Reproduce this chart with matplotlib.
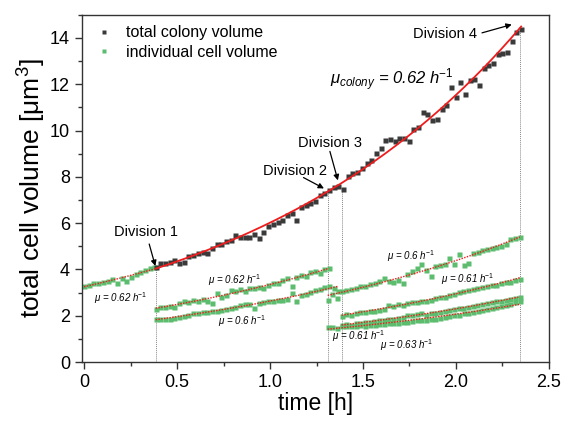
import numpy as np
import matplotlib.pyplot as plt
from matplotlib.ticker import MultipleLocator

plt.rcParams['font.family'] = ['Liberation Sans', 'DejaVu Sans']
plt.rcParams['mathtext.fontset'] = 'custom'
plt.rcParams['mathtext.rm'] = 'Liberation Sans'
plt.rcParams['mathtext.it'] = 'Liberation Sans:italic'

# frame interval of the time lapse [h]
dt = 0.0252

# total colony volume, from first division onwards
colony_t0 = 0.385
colony_vol = [4.12, 4.27, 4.30, 4.33, 4.40, 4.30, 4.32, 4.58, 4.63, 4.72,
              4.75, 4.70, 4.93, 5.08, 5.12, 5.22, 5.28, 5.50, 5.42, 5.40,
              5.42, 5.55, 5.36, 5.62, 5.88, 5.98, 6.05, 6.15, 6.35, 6.45,
              6.12, 6.70, 6.80, 6.88, 6.95, 7.20, 7.30, 7.42, 7.55, 7.62,
              7.48, 8.05, 8.15, 8.20, 8.40, 8.60, 8.75, 9.05, 9.25, 9.58,
              9.62, 9.55, 9.70, 9.68, 9.54, 10.05, 10.15, 10.80, 10.72, 10.45,
              10.52, 10.95, 11.10, 11.88, 11.45, 12.08, 11.60, 12.20, 12.22, 11.95,
              12.70, 12.85, 12.92, 13.30, 13.35, 13.40, 13.85, 14.25, 14.40]

# individual cells: start time and volumes
cell_a_t0 = 0.0
cell_a = [3.28, 3.33, 3.40, 3.42, 3.47, 3.52, 3.58, 3.42, 3.62, 3.50,
          3.68, 3.80, 3.90, 3.97, 4.05, 4.10]

cell_b_t0 = 0.385
cell_b = [2.30, 2.38, 2.36, 2.42, 2.40, 2.55, 2.62, 2.58, 2.70, 2.66,
          2.72, 2.62, 2.55, 2.98, 2.82, 2.90, 3.12, 3.05, 3.15, 3.08,
          3.20, 3.18, 3.25, 3.22, 3.35, 3.42, 3.40, 3.55, 3.62, 3.28,
          3.66, 3.75, 3.70, 3.88, 3.92, 3.85, 4.02, 4.05]

cell_c_t0 = 0.385
cell_c = [1.85, 1.84, 1.88, 1.86, 1.92, 1.95, 2.00, 2.05, 2.10, 2.12,
          2.15, 2.18, 2.20, 2.22, 2.25, 2.28, 2.35, 2.40, 2.45, 2.50,
          2.52, 2.35, 2.55, 2.60, 2.62, 2.65, 2.68, 2.70, 2.72, 3.00,
          2.65, 2.90, 2.95, 3.02, 3.10, 3.15, 3.25, 3.30, 3.20, 3.06]

cell_d_t0 = 1.31
cell_d = [2.70, 2.95, 2.75, 3.05, 3.10, 3.15, 3.22, 3.28, 3.30, 3.38,
          3.40, 3.52, 3.62, 3.52, 3.48, 3.55, 3.42, 3.80, 3.92, 4.05,
          4.22, 3.98, 3.70, 4.15, 4.20, 4.25, 4.50, 4.22, 4.65, 4.18,
          4.28, 4.70, 4.75, 4.82, 4.88, 4.92, 4.98, 5.02, 5.10, 5.30,
          5.36, 5.40]

cell_e_t0 = 1.31
cell_e = [1.50, 1.52, 1.48, 1.55, 1.54, 1.58, 1.56, 1.60, 1.58, 1.62,
          1.60, 1.65, 1.63, 1.68, 1.70, 1.68, 1.72, 1.75, 1.78, 1.80,
          1.82, 1.80, 1.85, 1.88, 1.92, 1.95, 2.00, 2.02, 2.05, 2.10,
          2.12, 2.18, 2.20, 2.25, 2.30, 2.35, 2.38, 2.42, 2.48, 2.52,
          2.58, 2.62]

cell_f_t0 = 1.385
cell_f = [2.00, 2.08, 2.05, 2.12, 2.15, 2.18, 2.20, 2.22, 2.25, 2.30,
          2.45, 2.42, 2.50, 2.48, 2.55, 2.58, 2.60, 2.65, 2.62, 2.70,
          2.75, 2.80, 2.82, 2.88, 2.95, 3.02, 3.05, 3.10, 3.15, 3.20,
          3.25, 3.28, 3.32, 3.35, 3.40, 3.45, 3.48, 3.55, 3.60]

cell_g_t0 = 1.385
cell_g = [1.60, 1.65, 1.62, 1.68, 1.70, 1.72, 1.75, 1.78, 1.80, 1.82,
          1.85, 1.88, 1.90, 1.95, 2.02, 2.05, 2.08, 2.10, 2.05, 2.10,
          2.12, 2.18, 2.20, 2.25, 2.28, 2.32, 2.35, 2.40, 2.42, 2.48,
          2.52, 2.55, 2.58, 2.62, 2.65, 2.70, 2.72, 2.78, 2.82]

# (start, volumes, growth rate text, label position)
cells = [
    (cell_a_t0, cell_a, '0.62', (0.195, 2.78)),
    (cell_b_t0, cell_b, '0.62', (0.81, 3.53)),
    (cell_c_t0, cell_c, '0.6', (0.85, 1.76)),
    (cell_d_t0, cell_d, '0.6', (1.76, 4.57)),
    (cell_f_t0, cell_f, '0.61', (2.065, 3.60)),
    (cell_e_t0, cell_e, '0.61', (1.475, 1.11)),
    (cell_g_t0, cell_g, '0.63', (1.736, 0.73)),
]

division_times = [0.385, 1.31, 1.385, 2.343]
division_labels = ['Division 1', 'Division 2', 'Division 3', 'Division 4']
label_pos = [(0.335, 5.6), (1.135, 8.25), (1.32, 9.48), (1.94, 14.15)]
arrow_tail = [(0.35, 5.1), (1.18, 7.97), (1.322, 9.1), (2.14, 14.22)]
arrow_head = [(0.383, 4.15), (1.29, 7.5), (1.365, 7.85), (2.30, 14.58)]

green = '#5cbd6e'
red = '#ee1c1c'
dark = '#333333'


def exp_fit(t, v):
    k, b = np.polyfit(t, np.log(v), 1)
    return lambda x: np.exp(b + k * x)


fig, ax = plt.subplots(figsize=(5.76, 4.23), dpi=100)
fig.subplots_adjust(left=0.142, right=0.953, bottom=0.144, top=0.965)

t_col = colony_t0 + dt * np.arange(len(colony_vol))

# dotted guide lines at each division
for td in division_times:
    top = np.interp(td, t_col, colony_vol)
    ax.plot([td, td], [0, top], color='#888888', lw=0.7, ls=(0, (1, 1)), zorder=1)

# individual cells and their exponential fits
for i, (t0, vol, mu, pos) in enumerate(cells):
    t = t0 + dt * np.arange(len(vol))
    ax.plot(t, vol, 's', color=green, ms=3.6, mec='none', zorder=2,
            label='individual cell volume' if i == 0 else None)
    f = exp_fit(t, vol)
    ax.plot(t, f(t), color=red, lw=1.0, ls=(0, (1, 1)), zorder=3)
    ax.text(pos[0], pos[1], r'$\mu$ = ' + mu + r' h$^{-1}$', fontsize=7,
            style='italic', ha='center', va='center')

# colony
ax.plot(t_col, colony_vol, 's', color='#3a3a3a', ms=3.6, mec='none', zorder=2,
        label='total colony volume')
f_col = exp_fit(t_col, colony_vol)
t_fit = np.linspace(t_col[0], t_col[-1], 200)
ax.plot(t_fit, f_col(t_fit), color=red, lw=1.3, zorder=4)

ax.text(1.655, 12.2, r'$\mu_{colony}$ = 0.62 h$^{-1}$', fontsize=12,
        style='italic', ha='center', va='center')

for lab, p, tail, head in zip(division_labels, label_pos, arrow_tail, arrow_head):
    ax.text(p[0], p[1], lab, fontsize=10.5, ha='center', va='center')
    ax.annotate('', xy=head, xytext=tail,
                arrowprops=dict(arrowstyle='-|>', color='black', lw=0.9,
                                mutation_scale=8, shrinkA=0, shrinkB=0))

# legend, colony entry first
handles, labels = ax.get_legend_handles_labels()
order = [labels.index('total colony volume'), labels.index('individual cell volume')]
ax.legend([handles[i] for i in order], [labels[i] for i in order],
          loc='upper left', frameon=False, fontsize=11.5, markerscale=0.8,
          handlelength=1.5, handletextpad=0.6, borderaxespad=0.25,
          labelspacing=0.3, bbox_to_anchor=(0.0, 1.0))

ax.set_xlim(-0.0125, 2.5)
ax.set_ylim(0, 15)
ax.xaxis.set_minor_locator(MultipleLocator(0.25))
ax.yaxis.set_major_locator(MultipleLocator(2))
ax.yaxis.set_minor_locator(MultipleLocator(1))
ax.set_xticks([0, 0.5, 1.0, 1.5, 2.0, 2.5])
ax.set_xticklabels(['0', '0.5', '1.0', '1.5', '2.0', '2.5'])
ax.tick_params(which='major', direction='out', length=5, width=1, labelsize=13,
               color=dark)
ax.tick_params(which='minor', direction='out', length=3, width=1, color=dark)
for s in ax.spines.values():
    s.set_color(dark)
    s.set_linewidth(1.0)

ax.set_xlabel('time [h]', fontsize=16.5, labelpad=1)
ax.set_ylabel(r'total cell volume [$\mathregular{\mu m^3}$]', fontsize=19, labelpad=1)

fig.savefig('out.png', dpi=100)
